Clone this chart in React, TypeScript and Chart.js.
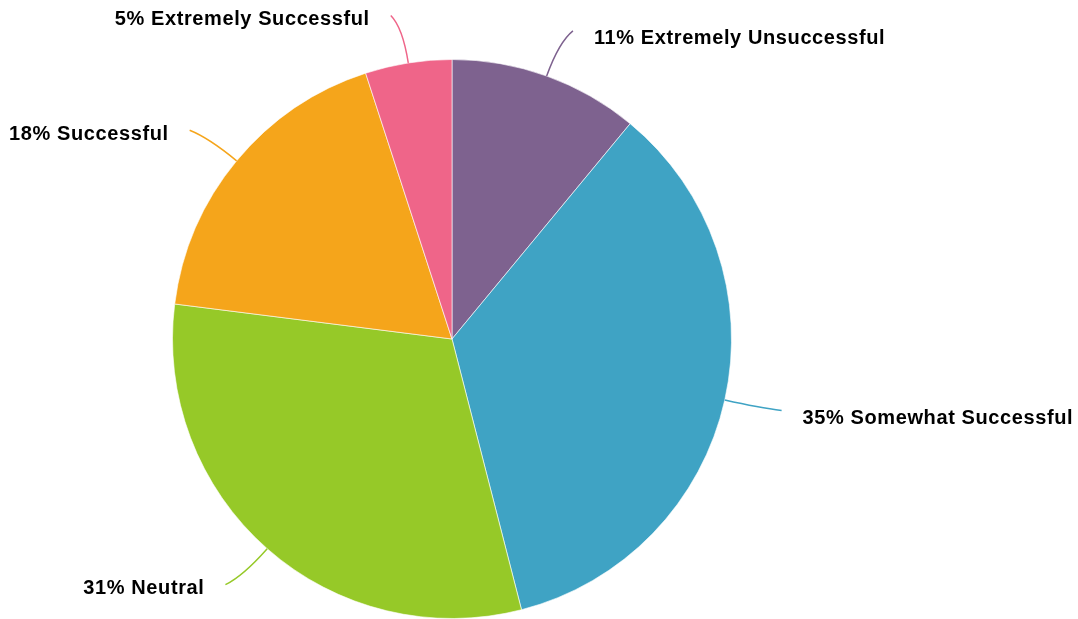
import React, { useEffect, useRef } from "react";
import { Chart, registerables } from "chart.js";

Chart.register(...registerables);

const categories = [
  "Extremely Unsuccessful",
  "Somewhat Successful",
  "Neutral",
  "Successful",
  "Extremely Successful",
];
const percentages = [11, 35, 31, 18, 5];
const colors = ["#7E628F", "#3FA3C4", "#96C928", "#F5A51B", "#EF6589"];

const leaderPlugin = {
  id: "leaderLabels",
  afterDatasetsDraw(chart: any) {
    const ctx = chart.ctx;
    const meta = chart.getDatasetMeta(0);
    ctx.save();
    meta.data.forEach((arc: any, i: number) => {
      const { x, y, outerRadius, startAngle, endAngle } = arc.getProps(
        ["x", "y", "outerRadius", "startAngle", "endAngle"],
        true
      );
      const mid = (startAngle + endAngle) / 2;
      const dx = Math.cos(mid);
      const dy = Math.sin(mid);
      const right = dx >= 0;
      const sign = right ? 1 : -1;
      const sx = x + dx * outerRadius;
      const sy = y + dy * outerRadius;
      const cx = x + dx * (outerRadius + 36);
      const cy = y + dy * (outerRadius + 36);
      const ex = x + dx * (outerRadius + 48) + sign * 10;
      const ey = y + dy * (outerRadius + 48);
      ctx.beginPath();
      ctx.moveTo(sx, sy);
      ctx.quadraticCurveTo(cx, cy, ex, ey);
      ctx.strokeStyle = colors[i];
      ctx.lineWidth = 1.5;
      ctx.stroke();
      ctx.font = "bold 20px 'Liberation Sans', Arial, sans-serif";
      (ctx as any).letterSpacing = "0.6px";
      ctx.fillStyle = "#000";
      ctx.textBaseline = "middle";
      ctx.textAlign = right ? "left" : "right";
      ctx.fillText(
        `${percentages[i]}% ${categories[i]}`,
        ex + sign * 21,
        ey + (right ? 8 : 4)
      );
    });
    ctx.restore();
  },
};

export default function App() {
  const ref = useRef<HTMLCanvasElement>(null);
  useEffect(() => {
    const chart = new Chart(ref.current!, {
      type: "pie",
      data: {
        labels: categories,
        datasets: [
          {
            data: percentages,
            backgroundColor: colors,
            borderColor: "rgba(255,255,255,0.6)",
            borderWidth: 1,
          },
        ],
      },
      options: {
        animation: false,
        responsive: false,
        layout: { padding: { left: 172, right: 346, top: 59, bottom: 0 } },
        plugins: {
          legend: { display: false },
          tooltip: { enabled: false },
        },
      },
      plugins: [leaderPlugin],
    });
    return () => chart.destroy();
  }, []);
  return (
    <div style={{ position: "fixed", left: 0, top: 0, width: 1078, height: 619, background: "#fff" }}>
      <canvas ref={ref} width={1078} height={619} />
    </div>
  );
}
